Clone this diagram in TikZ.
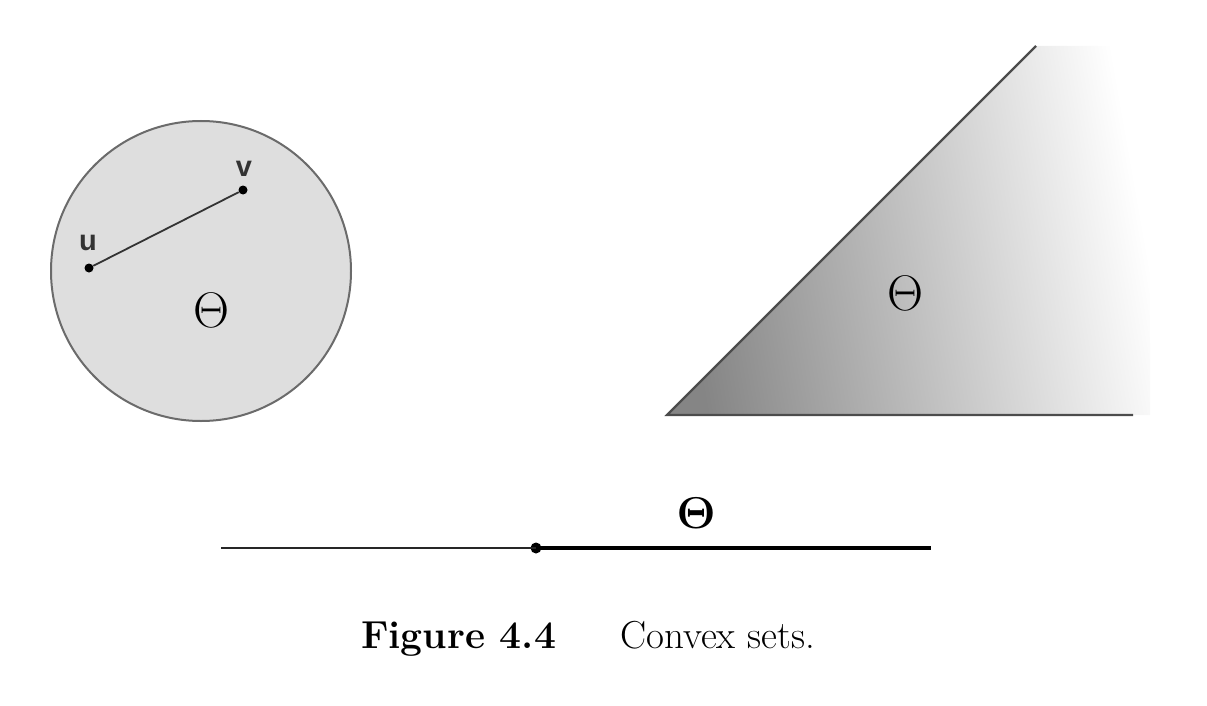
\documentclass[tikz,border=0pt]{standalone}
\usepackage[no-math]{fontspec}
\usepackage{graphicx}
\newfontfamily\labfont{Liberation Sans}
\newcommand{\bigth}{\resizebox{36pt}{!}{\fontsize{24.88}{30}\selectfont$\Theta$}}
\newcommand{\bigbth}{\resizebox{39pt}{!}{\fontsize{24.88}{30}\selectfont$\mathbf{\Theta}$}}
\begin{document}
\begin{tikzpicture}[x=1pt,y=-1pt,
  dotnode/.style={circle,fill=black,inner sep=0pt,minimum size=10pt},
  lab/.style={font=\labfont\bfseries\fontsize{29}{33}\selectfont,text=black!80},
  theta/.style={inner sep=0pt},
  captext/.style={font=\fontsize{39}{47}\selectfont,inner sep=0pt,anchor=base west},
  edgeline/.style={draw=black!70,line width=2.2pt}]
\useasboundingbox (0,0) rectangle (1207,706);
% circle
\node[circle,draw=black!58,line width=2pt,fill=black!13,minimum size=300pt,inner sep=0pt] (disk) at (201,271) {};
\node[dotnode,minimum size=9pt] (u) at (89,268) {};
\node[dotnode,minimum size=9pt] (v) at (243,190) {};
\draw[black!80,line width=1.8pt] (u) -- (v);
\node[lab,anchor=base] (ul) at (88,250) {u};
\node[lab,anchor=base] (vl) at (244,176) {v};
\node[theta] (t1) at (212,310) {\bigth};
% cone
\coordinate (A) at (667,415);
\coordinate (B) at (1036,46);
\coordinate (C) at (1133,415);
\shade[left color=black!48,right color=white,shading angle=100] (A) -- (B) -- (1150,46) -- (1150,415) -- cycle;
\draw[edgeline] (B) -- (A) -- (C);
\node[theta] (t2) at (905,293) {\bigth};
% half line
\coordinate (L) at (221,548);
\coordinate (R) at (931,548);
\node[dotnode,minimum size=11pt] (o) at (536,548) {};
\draw[black!85,line width=1.6pt] (L) -- (o.center);
\draw[black,line width=4pt] (o.center) -- (R);
\node[theta] (t3) at (696,513) {\bigbth};
% caption
\node[captext] (f) at (361,648) {\bfseries Figure 4.4};
\node[captext] (c) at (620,648) {Convex sets.};
\end{tikzpicture}
\end{document}
